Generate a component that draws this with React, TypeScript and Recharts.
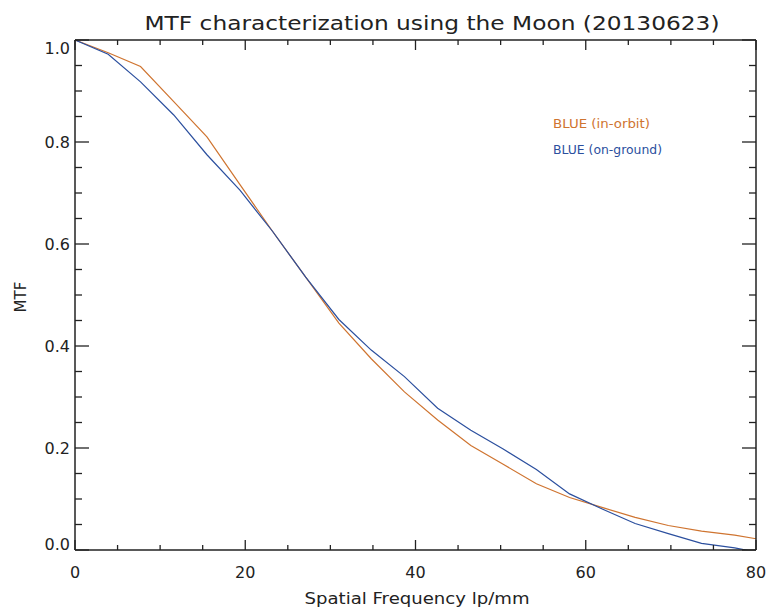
import { LineChart, Line, XAxis, YAxis } from 'recharts';

// spatial frequency samples (lp/mm)
const freq = [0, 3.9, 7.7, 11.6, 15.5, 19.4, 23.2, 27.1, 31.0, 34.8, 38.7, 42.6, 46.5, 50.3, 54.2, 58.1, 62.0, 65.8, 69.7, 73.6, 77.5, 80];

const inOrbit = [1.0, 0.975, 0.948, 0.879, 0.81, 0.716, 0.625, 0.535, 0.445, 0.375, 0.31, 0.255, 0.205, 0.168, 0.13, 0.103, 0.083, 0.064, 0.048, 0.037, 0.029, 0.022];
const onGround = [1.0, 0.972, 0.918, 0.853, 0.775, 0.705, 0.625, 0.535, 0.452, 0.392, 0.34, 0.278, 0.235, 0.198, 0.158, 0.11, 0.08, 0.052, 0.032, 0.013, 0.004, -0.004];

const xTicks = [0, 5, 10, 15, 20, 25, 30, 35, 40, 45, 50, 55, 60, 65, 70, 75, 80];
const yTicks = [0, 0.05, 0.1, 0.15, 0.2, 0.25, 0.3, 0.35, 0.4, 0.45, 0.5, 0.55, 0.6, 0.65, 0.7, 0.75, 0.8, 0.85, 0.9, 0.95, 1.0];

const data = freq.map((f, i) => ({ f, orbit: inOrbit[i], ground: onGround[i] }));

const ORANGE = '#cf7430';
const BLUE = '#2b4f9e';
const INK = '#222';
const FONT = '"DejaVu Sans", sans-serif';

const isMajorX = (v: number) => v % 20 === 0;
const isMajorY = (v: number) => Math.abs(v * 5 - Math.round(v * 5)) < 1e-6;

const BottomTick = (props: any) => {
    const { x, y, payload } = props;
    const major = isMajorX(payload.value);
    return (
        <g>
            <line x1={x} y1={y} x2={x} y2={y - (major ? 10 : 5)} stroke={INK} strokeWidth={1.3} />
            {major && (
                <text x={x} y={y + 28} textAnchor="middle" fontSize={16} fill={INK} fontFamily={FONT}>
                    {payload.value}
                </text>
            )}
        </g>
    );
};

const TopTick = (props: any) => {
    const { x, y, payload } = props;
    const major = isMajorX(payload.value);
    return <line x1={x} y1={y} x2={x} y2={y + (major ? 10 : 5)} stroke={INK} strokeWidth={1.3} />;
};

const LeftTick = (props: any) => {
    const { x, y, payload } = props;
    const v = payload.value;
    const major = isMajorY(v);
    let dy = 6;
    if (v >= 1) dy = 14;
    if (v <= 0) dy = 0;
    return (
        <g>
            <line x1={x} y1={y} x2={x + (major ? 14 : 7)} y2={y} stroke={INK} strokeWidth={1.3} />
            {major && (
                <text x={x - 5} y={y + dy} textAnchor="end" fontSize={16} fill={INK} fontFamily={FONT}>
                    {v.toFixed(1)}
                </text>
            )}
        </g>
    );
};

const RightTick = (props: any) => {
    const { x, y, payload } = props;
    const major = isMajorY(payload.value);
    return <line x1={x} y1={y} x2={x - (major ? 14 : 7)} y2={y} stroke={INK} strokeWidth={1.3} />;
};

const App = () => {
    return (
        <div style={{ position: 'absolute', left: 0, top: 0, width: 769, height: 609, background: '#fff' }}>
            <svg
                width={769}
                height={609}
                style={{ position: 'absolute', left: 0, top: 0, pointerEvents: 'none' }}
            >
                <text x={432} y={30} textAnchor="middle" fontSize={20} fill={INK} fontFamily={FONT} textLength={575} lengthAdjust="spacingAndGlyphs">
                    MTF characterization using the Moon (20130623)
                </text>
                <text x={417} y={604} textAnchor="middle" fontSize={16} fill={INK} fontFamily={FONT} textLength={225} lengthAdjust="spacingAndGlyphs">
                    Spatial Frequency lp/mm
                </text>
                <text x={26} y={297} textAnchor="middle" fontSize={15} fill={INK} fontFamily={FONT} transform="rotate(-90 26 297)">
                    MTF
                </text>
                <text x={553} y={128} fontSize={12} fill={ORANGE} fontFamily={FONT} textLength={97} lengthAdjust="spacingAndGlyphs">
                    BLUE  (in-orbit)
                </text>
                <text x={553} y={154} fontSize={12} fill={BLUE} fontFamily={FONT} textLength={109} lengthAdjust="spacingAndGlyphs">
                    BLUE (on-ground)
                </text>
            </svg>
            <LineChart
                width={769}
                height={609}
                data={data}
                margin={{ top: 39, right: 12, bottom: 58, left: 74 }}
            >
                <XAxis
                    xAxisId="bottom"
                    dataKey="f"
                    type="number"
                    domain={[0, 80]}
                    ticks={xTicks}
                    interval={0}
                    height={1}
                    tickSize={0}
                    tickMargin={0}
                    tickLine={false}
                    axisLine={{ stroke: INK, strokeWidth: 1.5 }}
                    tick={<BottomTick />}
                />
                <XAxis
                    xAxisId="top"
                    orientation="top"
                    dataKey="f"
                    type="number"
                    domain={[0, 80]}
                    ticks={xTicks}
                    interval={0}
                    height={1}
                    tickSize={0}
                    tickMargin={0}
                    tickLine={false}
                    axisLine={{ stroke: INK, strokeWidth: 1.5 }}
                    tick={<TopTick />}
                />
                <YAxis
                    yAxisId="left"
                    type="number"
                    domain={[0, 1]}
                    ticks={yTicks}
                    interval={0}
                    width={1}
                    tickSize={0}
                    tickMargin={0}
                    tickLine={false}
                    allowDataOverflow
                    axisLine={{ stroke: INK, strokeWidth: 1.5 }}
                    tick={<LeftTick />}
                />
                <YAxis
                    yAxisId="right"
                    orientation="right"
                    type="number"
                    domain={[0, 1]}
                    ticks={yTicks}
                    interval={0}
                    width={1}
                    tickSize={0}
                    tickMargin={0}
                    tickLine={false}
                    allowDataOverflow
                    axisLine={{ stroke: INK, strokeWidth: 1.5 }}
                    tick={<RightTick />}
                />
                {/* invisible series so the mirrored top/right axes get ticks */}
                <Line
                    xAxisId="top"
                    yAxisId="right"
                    type="linear"
                    dataKey="orbit"
                    stroke="none"
                    dot={false}
                    legendType="none"
                    isAnimationActive={false}
                />
                <Line
                    xAxisId="bottom"
                    yAxisId="left"
                    type="linear"
                    dataKey="orbit"
                    stroke={ORANGE}
                    strokeWidth={1.2}
                    dot={false}
                    isAnimationActive={false}
                />
                <Line
                    xAxisId="bottom"
                    yAxisId="left"
                    type="linear"
                    dataKey="ground"
                    stroke={BLUE}
                    strokeWidth={1.2}
                    dot={false}
                    isAnimationActive={false}
                />
            </LineChart>
        </div>
    );
};

export default App;
